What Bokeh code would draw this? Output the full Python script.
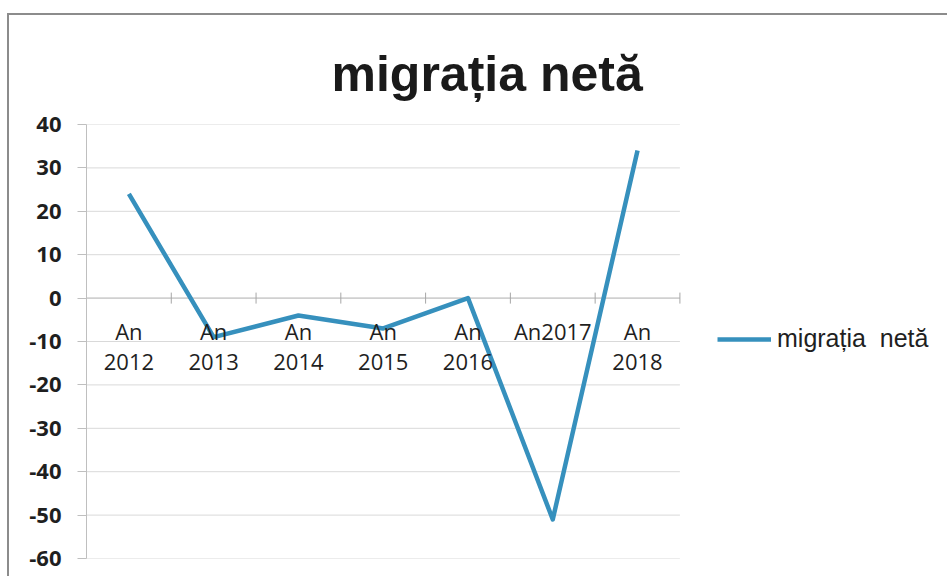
from bokeh.plotting import figure
from bokeh.models import Range1d, FixedTicker, Legend, LegendItem
from bokeh.core.properties import value
from bokeh.embed import file_html
from bokeh.resources import INLINE

# ---- data ----
categories = ["An 2012", "An 2013", "An 2014", "An 2015", "An 2016", "An2017", "An 2018"]
migratia_neta = [24, -9, -4, -7, 0, -51, 34]
y_ticks = [-60, -50, -40, -30, -20, -10, 0, 10, 20, 30, 40]
series_name = "migrația  netă"
title_text = "migrația  netă"

n = len(categories)
idx = list(range(n))
line1 = [c.split(" ")[0] for c in categories]
line2 = [c.split(" ")[1] if " " in c else "" for c in categories]
zeros = [0] * n
boundaries = [i + 0.5 for i in idx]
x_lo, x_hi = -0.5, n - 0.5

LINE_COLOR = "#3690bd"
GRID = "#d9d9d9"
AXIS = "#bfbfbf"
TEXT = "#1f1f1f"

# the frame is widened to the right so that the legend (drawn inside it) is not clipped;
# grid lines are limited to the category span
p = figure(width=940, height=563, output_backend="svg", toolbar_location=None,
           x_range=Range1d(x_lo, 9.68), y_range=Range1d(-60, 40),
           x_axis_location=None,
           min_border_left=77, min_border_right=0, min_border_top=109, min_border_bottom=20)

# outer chart border (left and top edges are visible in the reference)
p.styles = {"margin-left": "7px", "margin-top": "13px",
            "border-left": "2px solid #8c8c8c", "border-top": "2px solid #8c8c8c"}

p.outline_line_color = None
p.background_fill_color = "white"
p.border_fill_color = "white"
p.xgrid.grid_line_color = None
p.ygrid.grid_line_color = None

# y axis
p.yaxis.ticker = FixedTicker(ticks=y_ticks)
p.yaxis.major_label_overrides = {t: str(t) for t in y_ticks}
p.yaxis.axis_line_color = AXIS
p.yaxis.major_tick_line_color = AXIS
p.yaxis.major_tick_out = 9
p.yaxis.major_tick_in = 0
p.yaxis.minor_tick_line_color = None
p.yaxis.major_label_standoff = 16
p.yaxis.major_label_text_font = "Open Sans"
p.yaxis.major_label_text_font_style = "bold"
p.yaxis.major_label_text_font_size = "22px"
p.yaxis.major_label_text_color = TEXT

# horizontal grid lines over the category span
p.segment(x0=[x_lo] * len(y_ticks), x1=[x_hi] * len(y_ticks), y0=y_ticks, y1=y_ticks,
          line_color=GRID, line_width=1)

# horizontal category axis crossing at zero
p.segment(x0=[x_lo], x1=[x_hi], y0=[0], y1=[0], line_color=AXIS, line_width=1)
p.scatter(x=boundaries, y=zeros, marker="dash", size=11, angle=1.5708,
          line_color="#a6a6a6", line_width=1)

# series
r = p.line(x=idx, y=migratia_neta, line_color=LINE_COLOR, line_width=4.5,
           line_join="round")

# category labels drawn next to the zero axis
p.text(x=idx, y=zeros, text=line1, y_offset=33, text_align="center",
       text_baseline="alphabetic", text_font=value("Open Sans"),
       text_font_size="22px", text_color=TEXT)
p.text(x=idx, y=zeros, text=line2, y_offset=64, text_align="center",
       text_baseline="alphabetic", text_font=value("Open Sans"),
       text_font_size="22px", text_color=TEXT)

# title
p.title.text = title_text
p.title.align = "left"
p.title.offset = 245
p.title.text_font = "Liberation Sans"
p.title.text_font_style = "bold"
p.title.text_font_size = "50px"
p.title.text_color = "#1a1a1a"
p.title.standoff = 45

# legend
leg = Legend(items=[LegendItem(label=series_name, renderers=[r])],
             location=(631, 205), orientation="vertical")
leg.padding = 0
leg.margin = 0
leg.border_line_color = None
leg.background_fill_alpha = 0
leg.glyph_width = 54
leg.glyph_height = 24
leg.label_height = 24
leg.label_standoff = 6
leg.label_text_font = "Liberation Sans"
leg.label_text_font_size = "25px"
leg.label_text_color = TEXT
p.add_layout(leg, "center")

open("out.html", "w").write(file_html(p, INLINE))
